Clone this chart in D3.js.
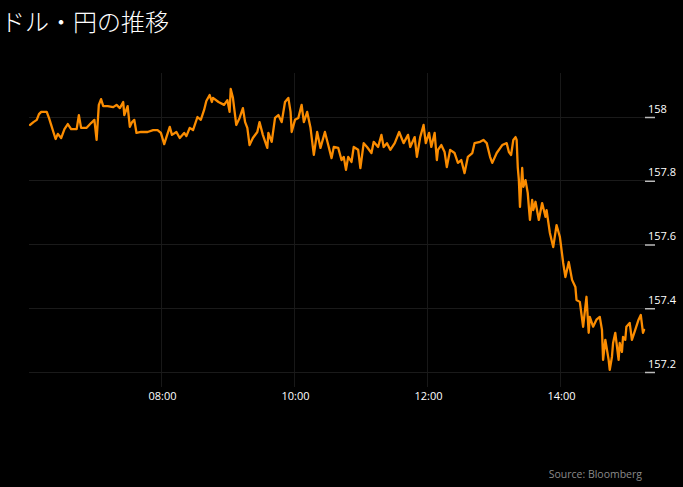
<!DOCTYPE html>
<html><head><meta charset="utf-8">
<script src="https://cdn.jsdelivr.net/npm/d3@7"></script>
<style>
html,body{margin:0;padding:0;background:#000;}
svg{display:block;}
</style></head>
<body>
<svg id="chart" width="683" height="487"></svg>
<script>
const titleText = "ドル・円の推移";
const sourceText = "Source: Bloomberg";
const times = ["06:01","06:04","06:07","06:09","06:11","06:16","06:18","06:20","06:22","06:24","06:26","06:29","06:32","06:35","06:38","06:43","06:45","06:47","06:52","06:56","06:59","07:01","07:03","07:05","07:07","07:11","07:16","07:19","07:22","07:25","07:26","07:29","07:31","07:33","07:35","07:37","07:41","07:47","07:52","07:56","07:59","08:02","08:04","08:07","08:09","08:13","08:16","08:20","08:22","08:25","08:28","08:32","08:35","08:38","08:40","08:43","08:45","08:46","08:51","08:56","08:59","09:01","09:02","09:04","09:07","09:10","09:13","09:15","09:17","09:19","09:22","09:26","09:28","09:31","09:35","09:36","09:39","09:42","09:45","09:48","09:51","09:54","09:56","09:57","10:00","10:03","10:06","10:08","10:11","10:14","10:17","10:20","10:23","10:27","10:30","10:33","10:35","10:39","10:42","10:44","10:46","10:48","10:51","10:53","10:57","10:59","11:02","11:05","11:09","11:11","11:15","11:18","11:20","11:23","11:26","11:30","11:34","11:38","11:42","11:44","11:48","11:50","11:53","11:56","11:58","12:01","12:03","12:06","12:08","12:09","12:12","12:15","12:17","12:20","12:24","12:27","12:30","12:33","12:36","12:40","12:42","12:47","12:50","12:53","12:56","12:58","13:02","13:07","13:11","13:13","13:15","13:17","13:19","13:20","13:21","13:22","13:23","13:25","13:26","13:28","13:30","13:31","13:32","13:34","13:35","13:37","13:40","13:43","13:46","13:47","13:50","13:53","13:56","13:58","13:59","14:02","14:04","14:07","14:10","14:13","14:14","14:17","14:20","14:23","14:25","14:26","14:29","14:32","14:35","14:37","14:38","14:40","14:43","14:44","14:46","14:47","14:49","14:52","14:53","14:55","14:56","14:58","14:59","15:02","15:04","15:07","15:10","15:12","15:14","15:15"];
const prices = [157.975,157.984,157.991,158.009,158.016,158.016,157.997,157.975,157.953,157.931,157.947,157.934,157.962,157.978,157.962,157.962,158.006,157.966,157.966,157.981,157.991,157.928,158.038,158.056,158.034,158.034,158.031,158.038,158.028,158.047,158.006,158.034,157.969,157.984,157.991,157.950,157.953,157.953,157.959,157.959,157.950,157.915,157.937,157.969,157.944,157.953,157.934,157.950,157.940,157.966,157.959,158.000,157.991,158.022,158.050,158.069,158.047,158.060,158.047,158.038,158.053,158.016,158.088,158.060,157.975,157.997,158.028,157.984,157.966,157.912,157.934,157.953,157.984,157.944,157.903,157.950,157.922,157.997,158.006,157.984,158.047,158.060,158.016,157.953,157.991,157.997,158.038,157.984,158.016,157.966,157.881,157.953,157.903,157.953,157.912,157.871,157.906,157.903,157.865,157.875,157.834,157.875,157.859,157.906,157.897,157.840,157.918,157.906,157.887,157.922,157.906,157.944,157.906,157.918,157.897,157.918,157.953,157.918,157.944,157.906,157.937,157.875,157.937,157.975,157.918,157.950,157.906,157.950,157.865,157.897,157.912,157.890,157.843,157.897,157.887,157.856,157.865,157.824,157.875,157.887,157.918,157.922,157.928,157.918,157.875,157.856,157.887,157.912,157.918,157.890,157.881,157.928,157.937,157.928,157.843,157.802,157.718,157.840,157.781,157.802,157.762,157.718,157.677,157.740,157.708,157.734,157.677,157.730,157.687,157.708,157.636,157.592,157.661,157.636,157.624,157.542,157.498,157.545,157.489,157.467,157.426,157.420,157.342,157.436,157.323,157.373,157.342,157.364,157.373,157.332,157.238,157.301,157.238,157.207,157.248,157.291,157.323,157.238,157.291,157.263,157.310,157.301,157.342,157.354,157.301,157.332,157.364,157.379,157.323,157.332];
const yTicks = [157.2, 157.4, 157.6, 157.8, 158];
const yTickLabels = ["157.2", "157.4", "157.6", "157.8", "158"];
const xTicks = ["08:00", "10:00", "12:00", "14:00"];
const xDomain = ["06:00", "15:15"];

const parse = d3.timeParse("%H:%M");
const fmt = d3.timeFormat("%H:%M");
const data = times.map((t, i) => ({t: parse(t), v: prices[i]}));

const svg = d3.select("#chart");
svg.append("rect").attr("width", 683).attr("height", 487).attr("fill", "#000");

const x = d3.scaleTime().domain(xDomain.map(parse)).range([29, 644.1]);
const y = d3.scaleLinear().domain([157.2, 158]).range([372, 117]);

// vertical gridlines
svg.append("g").selectAll("line").data(xTicks.map(parse)).join("line")
  .attr("x1", d => x(d)).attr("x2", d => x(d))
  .attr("y1", 73).attr("y2", 387)
  .attr("stroke", "#181818").attr("stroke-width", 1).attr("shape-rendering", "crispEdges");

// horizontal gridlines
svg.append("g").selectAll("line").data(yTicks).join("line")
  .attr("x1", 29).attr("x2", 645)
  .attr("y1", d => y(d)).attr("y2", d => y(d))
  .attr("stroke", "#1a1a1a").attr("stroke-width", 1).attr("shape-rendering", "crispEdges");

// right axis
const yAxis = d3.axisRight(y).tickValues(yTicks).tickSize(10)
  .tickFormat((d, i) => yTickLabels[i]);
const gy = svg.append("g").attr("transform", "translate(645,0)").call(yAxis);
gy.select(".domain").remove();
gy.selectAll(".tick line").attr("stroke", "#bbb").attr("stroke-width", 1.5);
gy.selectAll(".tick text").attr("x", 3).attr("dy", "-0.45em")
  .attr("fill", "#fff").attr("font-family", "'Open Sans', sans-serif").attr("font-size", 11)
  .attr("text-anchor", "start");

// bottom axis
const xAxis = d3.axisBottom(x).tickValues(xTicks.map(parse)).tickSize(0).tickFormat(fmt);
const gx = svg.append("g").attr("transform", "translate(0,388)").call(xAxis);
gx.select(".domain").remove();
gx.selectAll(".tick text").attr("y", 4).attr("dy", "0.71em")
  .attr("fill", "#fff").attr("font-family", "'Open Sans', sans-serif").attr("font-size", 11);

// line
const line = d3.line().x(d => x(d.t)).y(d => y(d.v));
svg.append("path").datum(data)
  .attr("d", line)
  .attr("fill", "none").attr("stroke", "#fb8c00").attr("stroke-width", 2.3)
  .attr("stroke-linejoin", "round").attr("stroke-linecap", "round");

// title
svg.append("text").attr("x", 1).attr("y", 31).text(titleText)
  .attr("fill", "#ffffff").attr("font-family", "'Noto Sans CJK JP', sans-serif")
  .attr("font-weight", 300).attr("font-size", 24);

// source
svg.append("text").attr("x", 642).attr("y", 478).attr("text-anchor", "end").text(sourceText)
  .attr("fill", "#8a8a8a").attr("font-family", "'Open Sans', sans-serif").attr("font-size", 10.5);
</script>
</body></html>
